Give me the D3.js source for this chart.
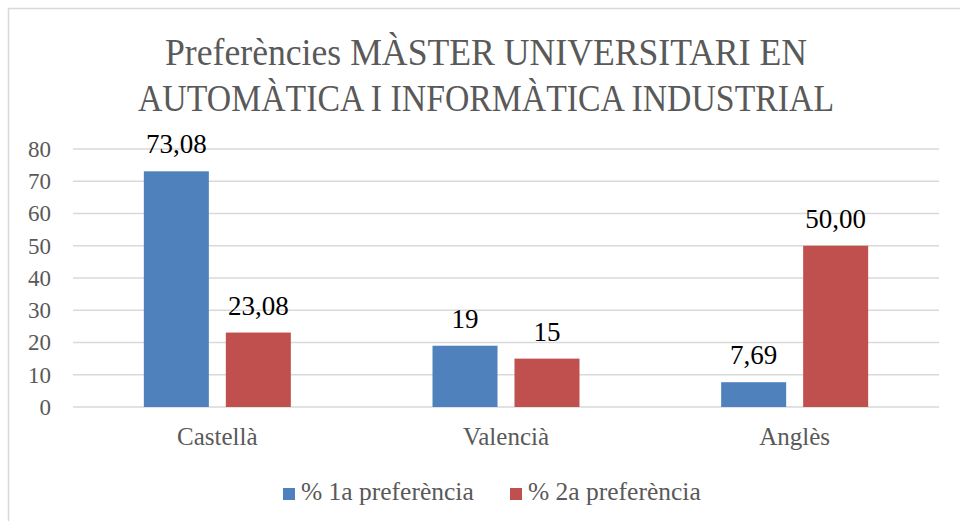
<!DOCTYPE html>
<html>
<head>
<meta charset="utf-8">
<script src="https://cdn.jsdelivr.net/npm/d3@7"></script>
<style>
  body { margin: 0; background: #fff; }
  text { font-family: "Liberation Serif", "DejaVu Serif", serif; }
</style>
</head>
<body>
<script>
// chart data
const categories = ["Castellà", "Valencià", "Anglès"];
const seriesNames = ["% 1a preferència", "% 2a preferència"];
const first = [73.08, 19, 7.69];
const second = [23.08, 15, 50.00];
const firstLabels = ["73,08", "19", "7,69"];
const secondLabels = ["23,08", "15", "50,00"];
const yTicks = [0, 10, 20, 30, 40, 50, 60, 70, 80];
const titleLines = ["Preferències MÀSTER UNIVERSITARI EN", "AUTOMÀTICA I INFORMÀTICA INDUSTRIAL"];

const colors = ["#4f81bd", "#c0504d"];

const outerWidth = 960, outerHeight = 521;
const margin = {top: 149, right: 21, bottom: 114, left: 73};
const width = outerWidth - margin.left - margin.right;
const height = outerHeight - margin.top - margin.bottom;

const svg = d3.select("body").append("svg")
    .attr("width", outerWidth)
    .attr("height", outerHeight);

// chart frame
svg.append("rect")
    .attr("x", 8.5).attr("y", 8.5)
    .attr("width", 960).attr("height", 530)
    .attr("fill", "none")
    .attr("stroke", "#d9d9d9")
    .attr("stroke-width", 1.5);

// title - squeezed to the width of the original lines
const titleWidths = [642, 696];
svg.append("g").selectAll("text")
    .data(titleLines)
    .join("text")
    .attr("x", 486)
    .attr("y", (d, i) => 65 + i * 46)
    .attr("text-anchor", "middle")
    .attr("font-size", 37)
    .attr("fill", "#595959")
    .attr("textLength", (d, i) => titleWidths[i])
    .attr("lengthAdjust", "spacingAndGlyphs")
    .text(d => d);

const g = svg.append("g")
    .attr("transform", `translate(${margin.left},${margin.top})`);

const xScale = d3.scaleBand()
    .domain(categories)
    .range([0, width]);

const yScale = d3.scaleLinear()
    .domain([0, 80])
    .range([height, 0]);

// two bars grouped in the middle of each band
const groupWidth = 147;
const inner = d3.scaleBand()
    .domain([0, 1])
    .range([0, groupWidth])
    .paddingInner(0.207)
    .paddingOuter(0);

// gridlines
g.append("g").selectAll("line")
    .data(yTicks)
    .join("line")
    .attr("x1", 0).attr("x2", width)
    .attr("y1", d => yScale(d)).attr("y2", d => yScale(d))
    .attr("stroke", "#d9d9d9")
    .attr("stroke-width", 1.5);

// y axis labels
const yAxis = d3.axisLeft(yScale).tickValues(yTicks).tickSize(0).tickPadding(22);
g.append("g").call(yAxis)
    .call(s => s.select(".domain").remove())
    .selectAll("text")
    .attr("font-size", 23)
    .attr("fill", "#595959")
    .style("font-family", "'Liberation Serif', serif");

// x axis labels
const xAxis = d3.axisBottom(xScale).tickSize(0);
g.append("g").attr("transform", `translate(0,${height})`).call(xAxis)
    .call(s => s.select(".domain").remove())
    .selectAll("text")
    .attr("y", 38)
    .attr("dy", null)
    .attr("font-size", 25)
    .attr("fill", "#595959")
    .style("font-family", "'Liberation Serif', serif");

const series = [
  {values: first, labels: firstLabels},
  {values: second, labels: secondLabels}
];

series.forEach((s, si) => {
  const offset = (xScale.bandwidth() - groupWidth) / 2;
  g.append("g").selectAll("rect")
      .data(categories)
      .join("rect")
      .attr("x", d => xScale(d) + offset + inner(si))
      .attr("y", (d, i) => yScale(s.values[i]))
      .attr("width", inner.bandwidth())
      .attr("height", (d, i) => height - yScale(s.values[i]))
      .attr("fill", colors[si]);

  g.append("g").selectAll("text")
      .data(categories)
      .join("text")
      .attr("x", d => xScale(d) + offset + inner(si) + inner.bandwidth() / 2)
      .attr("y", (d, i) => yScale(s.values[i]) - 18)
      .attr("text-anchor", "middle")
      .attr("font-size", 27)
      .attr("fill", "#000")
      .text((d, i) => s.labels[i]);
});

// legend
const legend = svg.append("g").attr("transform", "translate(283,491)");
const legendX = [0, 227];
seriesNames.forEach((name, i) => {
  legend.append("rect")
      .attr("x", legendX[i]).attr("y", -3)
      .attr("width", 12).attr("height", 12)
      .attr("fill", colors[i]);
  legend.append("text")
      .attr("x", legendX[i] + 18).attr("y", 9)
      .attr("font-size", 25.5)
      .attr("fill", "#595959")
      .text(name);
});
</script>
</body>
</html>
